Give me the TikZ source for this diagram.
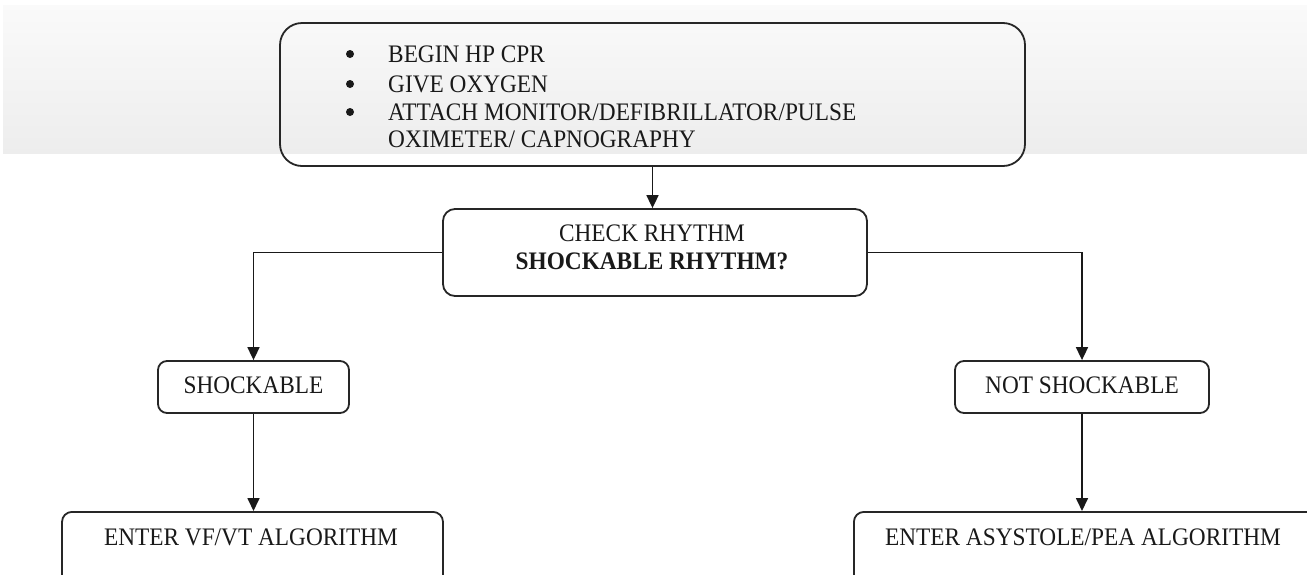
\documentclass[tikz,border=0pt]{standalone}
\usepackage{fontspec}
\setmainfont{Liberation Serif}[FakeStretch=0.925]
\usetikzlibrary{arrows.meta}
\begin{document}
\begin{tikzpicture}[x=1pt, y=-1pt,
  every node/.style={font=\fontsize{25.2}{30}\selectfont, text=black!90, inner sep=0pt},
  box/.style={draw=black!85, line width=1.8pt, rounded corners=#1},
  box/.default=10pt,
  arrow/.style={draw=black!90, line width=1.7pt, -{Triangle[length=13pt, width=12pt]}},
  dot/.style={circle, fill=black!90, minimum size=8pt}]
  \useasboundingbox (0,0) rectangle (1307,574);
  \clip (0,0) rectangle (1307,574);

  % soft grey band behind the first step
  \shade[top color=black!2, bottom color=black!7] (3,5) rectangle (1307,153);

  % first step
  \node[box=22pt, minimum width=745pt, minimum height=143pt] (start) at (652.5,94.5) {};
  \node[dot] (b1) at (350,54) {};
  \node[dot] (b2) at (350,84) {};
  \node[dot] (b3) at (350,112) {};
  \node[anchor=base west] (t1) at (388,62) {BEGIN HP CPR};
  \node[anchor=base west] (t2) at (388,92) {GIVE OXYGEN};
  \node[anchor=base west] (t3) at (388,120) {ATTACH MONITOR/DEFIBRILLATOR/PULSE};
  \node[anchor=base west] (t4) at (388,147) {OXIMETER/ CAPNOGRAPHY};

  % rhythm check
  \node[box=12pt, minimum width=424pt, minimum height=87pt] (check) at (655,252.5) {};
  \node[anchor=base] (c1) at (652,241) {CHECK RHYTHM};
  \node[anchor=base] (c2) at (652,269) {\bfseries SHOCKABLE RHYTHM?};

  % branches
  \node[box=9pt, minimum width=191pt, minimum height=52pt] (shock) at (253.5,387) {};
  \node[anchor=base] (s1) at (253.5,393) {SHOCKABLE};
  \node[box=9pt, minimum width=254pt, minimum height=52pt] (notshock) at (1082,387) {};
  \node[anchor=base] (n1) at (1082,393) {NOT SHOCKABLE};

  % algorithms
  \node[box=10pt, minimum width=381pt, minimum height=100pt, anchor=north] (vf) at (252.5,511) {};
  \node[anchor=base] (v1) at (251,545) {ENTER VF/VT ALGORITHM};
  \node[box=10pt, minimum width=480pt, minimum height=100pt, anchor=north west] (asy) at (853,511) {};
  \node[anchor=base] (a1) at (1083,545) {ENTER ASYSTOLE/PEA ALGORITHM};

  % connectors
  \draw[arrow] (start.south) -- (start.south |- check.north);
  \draw[arrow] (check.west) -| (shock.north);
  \draw[arrow] (check.east) -| (notshock.north);
  \draw[arrow] (shock.south) -- (shock.south |- vf.north);
  \draw[arrow] (notshock.south) -- (notshock.south |- asy.north);
\end{tikzpicture}
\end{document}
